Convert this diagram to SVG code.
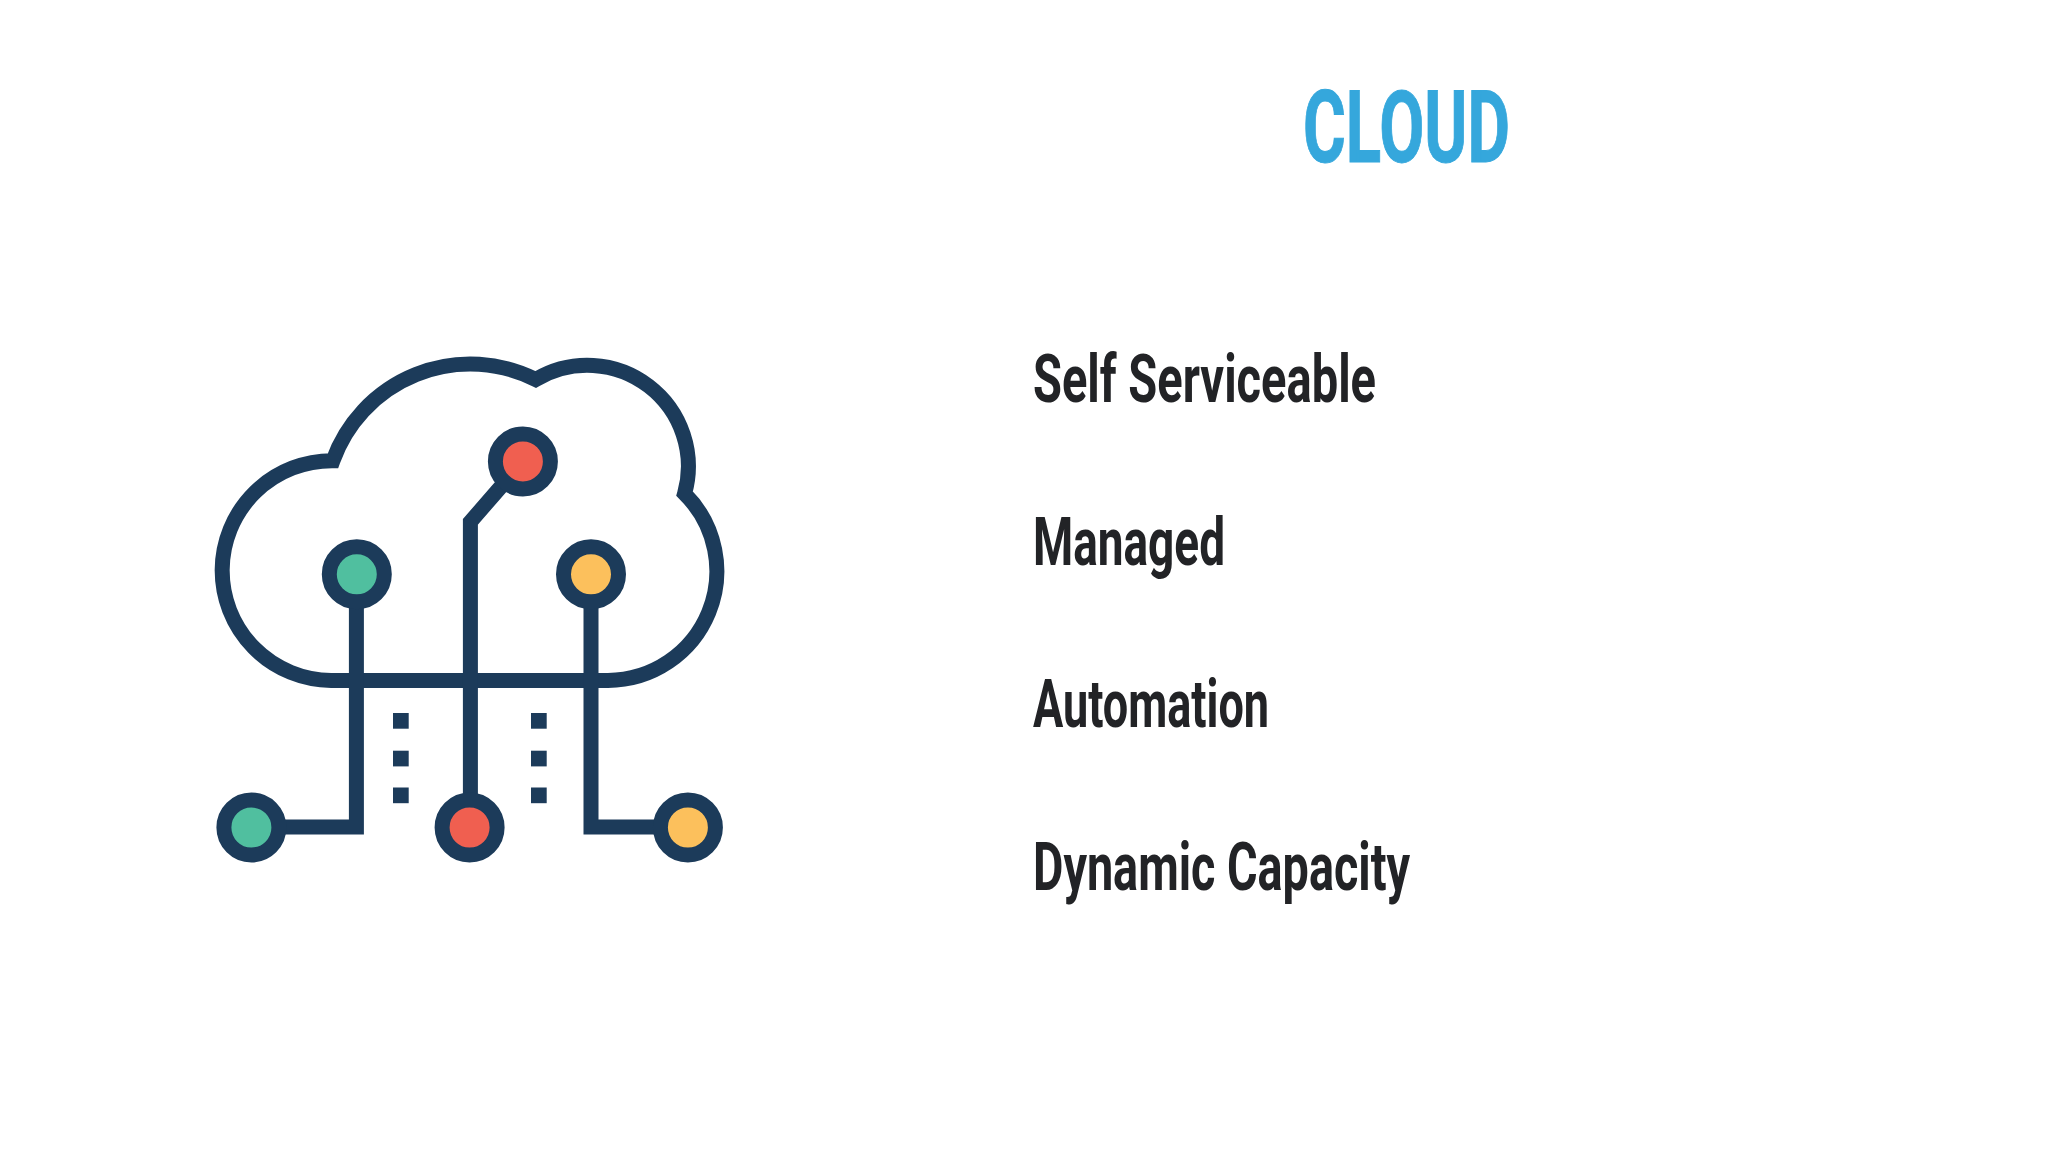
<svg xmlns="http://www.w3.org/2000/svg" width="2048" height="1152" viewBox="0 0 2048 1152">
<style>
.ln{fill:none;stroke:#1c3b5a;stroke-width:15;stroke-linejoin:miter;stroke-miterlimit:10}
.sq{fill:#1c3b5a}
.n{stroke:#1c3b5a;stroke-width:15}
.t{font-family:"Roboto","Liberation Sans",sans-serif;font-weight:700;font-size:67px;fill:#222326}
.h{font-family:"Roboto","Liberation Sans",sans-serif;font-weight:700;font-size:100px;fill:#35a7dc;stroke:#35a7dc;stroke-width:1}
</style>
<rect width="2048" height="1152" fill="#ffffff"/>
<g id="cloud"><path class="ln" d="M331.1 680.4A109.6 109.6 0 0 1 332.9 460.7A146 146 0 0 1 535.7 379.5A101 101 0 0 1 684.6 493.6A109.3 109.3 0 0 1 607.9 680.4Z"/></g>
<g id="connectors">
<path class="ln" d="M356.4 574V827H251"/>
<path class="ln" d="M522.9 461.4L470.4 521.8V827"/>
<path class="ln" d="M591 574V827H688"/>
</g>
<g id="dots-left"><rect class="sq" x="393" y="713" width="15.7" height="15.7"/><rect class="sq" x="393" y="750.7" width="15.7" height="15.7"/><rect class="sq" x="393" y="787.5" width="15.7" height="15.7"/></g>
<g id="dots-right"><rect class="sq" x="531" y="713" width="15.7" height="15.7"/><rect class="sq" x="531" y="750.7" width="15.7" height="15.7"/><rect class="sq" x="531" y="787.5" width="15.7" height="15.7"/></g>
<g id="node-top-red"><circle class="n" cx="522.9" cy="461.4" r="27.5" fill="#f05f50"/></g>
<g id="node-mid-green"><circle class="n" cx="356.8" cy="574.3" r="27.5" fill="#50bf9f"/></g>
<g id="node-mid-yellow"><circle class="n" cx="591" cy="574.3" r="27.5" fill="#fcc05c"/></g>
<g id="node-bottom-green"><circle class="n" cx="251.4" cy="827.5" r="27.5" fill="#50bf9f"/></g>
<g id="node-bottom-red"><circle class="n" cx="469.6" cy="827.5" r="27.5" fill="#f05f50"/></g>
<g id="node-bottom-yellow"><circle class="n" cx="687.9" cy="827.5" r="27.5" fill="#fcc05c"/></g>
<text class="h" x="1303" y="162" textLength="207" lengthAdjust="spacingAndGlyphs">CLOUD</text>
<text class="t" x="1033" y="402" textLength="343" lengthAdjust="spacingAndGlyphs">Self Serviceable</text>
<text class="t" x="1033" y="564.5" textLength="192" lengthAdjust="spacingAndGlyphs">Managed</text>
<text class="t" x="1033" y="727" textLength="236" lengthAdjust="spacingAndGlyphs">Automation</text>
<text class="t" x="1033" y="889.5" textLength="377" lengthAdjust="spacingAndGlyphs">Dynamic Capacity</text>
</svg>
